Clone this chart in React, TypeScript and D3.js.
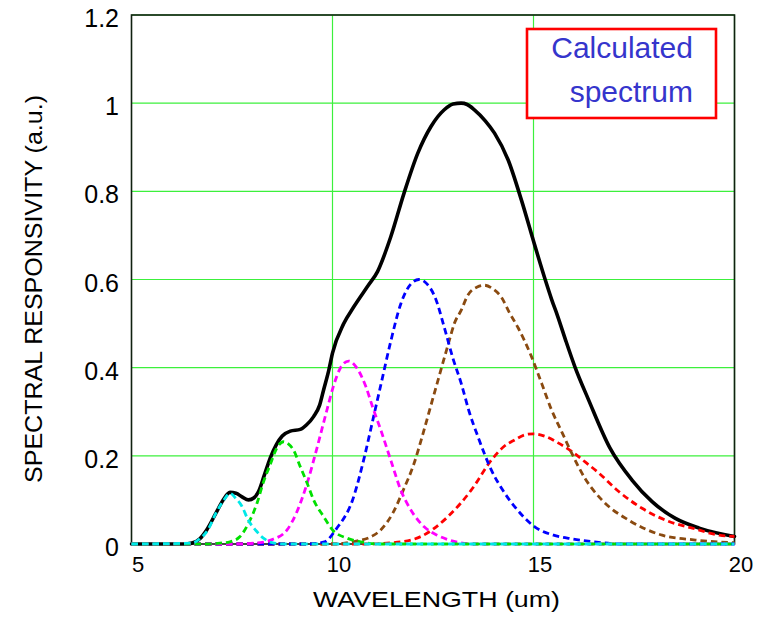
import React from "react";
import * as d3 from "d3";

// ---- data ----
const xTicks = [5, 10, 15, 20];
const yTicks = [0, 0.2, 0.4, 0.6, 0.8, 1.0, 1.2];
const yTickLabels = ["0", "0.2", "0.4", "0.6", "0.8", "1", "1.2"];

const totalX = [5, 6.3, 6.5, 6.7, 6.87, 7.1, 7.28, 7.45, 7.6, 7.75, 7.91, 8.05, 8.16, 8.3, 8.45, 8.6, 8.75, 8.95, 9.2, 9.35, 9.53, 9.68, 9.78, 9.91, 10.0, 10.28, 10.53, 10.87, 11.12, 11.45, 11.78, 12.12, 12.45, 12.78, 13.0, 13.2, 13.35, 13.53, 13.8, 14.03, 14.37, 14.7, 15.03, 15.3, 15.45, 15.6, 15.8, 16.03, 16.37, 16.9, 17.45, 17.95, 18.53, 19.12, 20];
const totalY = [0, 0, 0.002, 0.012, 0.032, 0.07, 0.1, 0.117, 0.115, 0.107, 0.1, 0.105, 0.119, 0.155, 0.195, 0.225, 0.245, 0.256, 0.26, 0.27, 0.289, 0.315, 0.35, 0.395, 0.433, 0.5, 0.538, 0.584, 0.618, 0.697, 0.796, 0.886, 0.947, 0.985, 0.998, 1.0, 0.997, 0.985, 0.96, 0.932, 0.871, 0.78, 0.678, 0.597, 0.555, 0.517, 0.462, 0.402, 0.327, 0.218, 0.145, 0.096, 0.058, 0.036, 0.017];

const cyanX = [5, 6.5, 6.7, 6.9, 7.1, 7.3, 7.45, 7.6, 7.75, 7.9, 8.1, 8.3, 8.5, 8.8, 20];
const cyanY = [0, 0.002, 0.012, 0.032, 0.07, 0.1, 0.115, 0.103, 0.085, 0.055, 0.03, 0.012, 0.003, 0, 0];

const greenX = [5, 6.8, 7.2, 7.45, 7.7, 7.91, 8.12, 8.28, 8.45, 8.6, 8.78, 8.9, 9.03, 9.2, 9.37, 9.53, 9.78, 10.0, 10.37, 10.7, 11.2, 20];
const greenY = [0, 0, 0.002, 0.005, 0.017, 0.047, 0.092, 0.14, 0.18, 0.215, 0.232, 0.227, 0.213, 0.175, 0.138, 0.1, 0.062, 0.032, 0.013, 0.005, 0, 0];

const magentaX = [5, 7.5, 8.2, 8.5, 8.87, 9.1, 9.37, 9.62, 9.85, 10.03, 10.2, 10.4, 10.6, 10.83, 11.0, 11.2, 11.45, 11.7, 12.0, 12.28, 12.6, 12.87, 13.5, 20];
const magentaY = [0, 0, 0.003, 0.01, 0.032, 0.07, 0.138, 0.22, 0.3, 0.36, 0.4, 0.415, 0.4, 0.357, 0.31, 0.259, 0.19, 0.122, 0.07, 0.039, 0.02, 0.01, 0, 0];

const blueX = [5, 9.4, 9.8, 10.1, 10.5, 10.8, 11.0, 11.2, 11.45, 11.7, 11.95, 12.15, 12.35, 12.55, 12.8, 13.0, 13.2, 13.4, 13.62, 13.95, 14.25, 14.53, 15.03, 15.5, 15.87, 16.5, 17.2, 20];
const blueY = [0, 0, 0.005, 0.035, 0.1, 0.2, 0.28, 0.36, 0.46, 0.545, 0.59, 0.6, 0.59, 0.56, 0.485, 0.42, 0.365, 0.3, 0.243, 0.168, 0.12, 0.085, 0.039, 0.02, 0.013, 0.005, 0, 0];

const brownX = [5, 10.0, 10.5, 11.03, 11.2, 11.5, 11.75, 12.03, 12.25, 12.45, 12.62, 12.9, 13.03, 13.2, 13.37, 13.6, 13.78, 14.0, 14.2, 14.4, 14.62, 14.95, 15.2, 15.45, 15.7, 15.95, 16.28, 16.7, 17.37, 18.2, 19.03, 20];
const brownY = [0, 0, 0.005, 0.02, 0.032, 0.07, 0.12, 0.183, 0.25, 0.315, 0.37, 0.46, 0.5, 0.53, 0.565, 0.583, 0.587, 0.578, 0.56, 0.525, 0.49, 0.425, 0.365, 0.304, 0.255, 0.206, 0.149, 0.1, 0.054, 0.02, 0.009, 0.003];

const redX = [5, 10.8, 11.53, 12.2, 12.87, 13.45, 13.95, 14.25, 14.53, 14.8, 15.0, 15.3, 15.6, 15.95, 16.3, 16.6, 17.12, 17.7, 18.37, 18.95, 19.62, 20];
const redY = [0, 0, 0.003, 0.017, 0.062, 0.122, 0.19, 0.22, 0.236, 0.248, 0.25, 0.244, 0.23, 0.21, 0.185, 0.163, 0.119, 0.081, 0.051, 0.036, 0.02, 0.017];

const legendLines = ["Calculated", "spectrum"];

const components = [
  { name: "red", xs: redX, ys: redY, color: "#ff0000" },
  { name: "brown", xs: brownX, ys: brownY, color: "#8a4a10" },
  { name: "blue", xs: blueX, ys: blueY, color: "#0000ff" },
  { name: "magenta", xs: magentaX, ys: magentaY, color: "#ff00ff" },
  { name: "green", xs: greenX, ys: greenY, color: "#00e000" },
  { name: "cyan", xs: cyanX, ys: cyanY, color: "#00e8e8" },
];

const W = 769;
const H = 617;
const FONT = "'Liberation Sans', Arial, sans-serif";

export default function App() {
  const x = d3.scaleLinear().domain([5, 20]).range([131.5, 734.5]);
  const y = d3.scaleLinear().domain([0, 1.2]).range([544, 15]);
  const line = d3
    .line<[number, number]>()
    .x((d) => x(d[0]))
    .y((d) => y(d[1]))
    .curve(d3.curveMonotoneX);
  const pts = (xs: number[], ys: number[]) => xs.map((v, i) => [v, ys[i]] as [number, number]);

  const gridColor = "#3cf03c";

  return (
    <svg
      width={W}
      height={H}
      style={{ position: "absolute", left: 0, top: 0, background: "#fff" }}
      fontFamily={FONT}
    >
      <rect x={0} y={0} width={W} height={H} fill="#fff" />
      {/* grid */}
      {xTicks.slice(1).map((t) => (
        <line key={"gx" + t} x1={x(t)} x2={x(t)} y1={y(1.2)} y2={y(0)} stroke={gridColor} strokeWidth={1.2} />
      ))}
      {yTicks.slice(1).map((t) => (
        <line key={"gy" + t} x1={x(5)} x2={x(20)} y1={y(t)} y2={y(t)} stroke={gridColor} strokeWidth={1.2} />
      ))}
      {/* frame */}
      <rect x={x(5)} y={y(1.2)} width={x(20) - x(5)} height={y(0) - y(1.2)} fill="none" stroke="#102010" strokeWidth={1.6} />

      {/* total */}
      <path d={line(pts(totalX, totalY)) || ""} fill="none" stroke="#000" strokeWidth={3.6} strokeLinejoin="round" strokeLinecap="round" />
      {/* components */}
      {components.map((c) => (
        <path
          key={c.name}
          d={line(pts(c.xs, c.ys)) || ""}
          fill="none"
          stroke={c.color}
          strokeWidth={2.8}
          strokeDasharray="6.5,4"
        />
      ))}

      {/* y tick labels */}
      {yTicks.map((t, i) => (
        <text key={"yt" + t} x={119} y={y(t) + 12} textAnchor="end" fontSize={25} fill="#000">
          {yTickLabels[i]}
        </text>
      ))}
      {/* x tick labels */}
      {xTicks.map((t) => (
        <text key={"xt" + t} x={x(t) + 6.5} y={572} textAnchor="middle" fontSize={22} fill="#000">
          {t}
        </text>
      ))}
      {/* axis titles */}
      <text x={313} y={607} fontSize={22} textLength={247} lengthAdjust="spacingAndGlyphs" fill="#000">
        WAVELENGTH (um)
      </text>
      <text
        transform="translate(42,483) rotate(-90)"
        x={0}
        y={0}
        fontSize={24}
        textLength={388}
        lengthAdjust="spacingAndGlyphs"
        fill="#000"
      >
        SPECTRAL RESPONSIVITY (a.u.)
      </text>

      {/* legend box */}
      <rect x={527} y={29} width={189} height={89} fill="#fff" stroke="#ff0000" strokeWidth={2.6} />
      <text x={693} y={58} textAnchor="end" fontSize={30} fill="#3535cc">
        {legendLines[0]}
      </text>
      <text x={693} y={102} textAnchor="end" fontSize={30} fill="#3535cc">
        {legendLines[1]}
      </text>
    </svg>
  );
}
